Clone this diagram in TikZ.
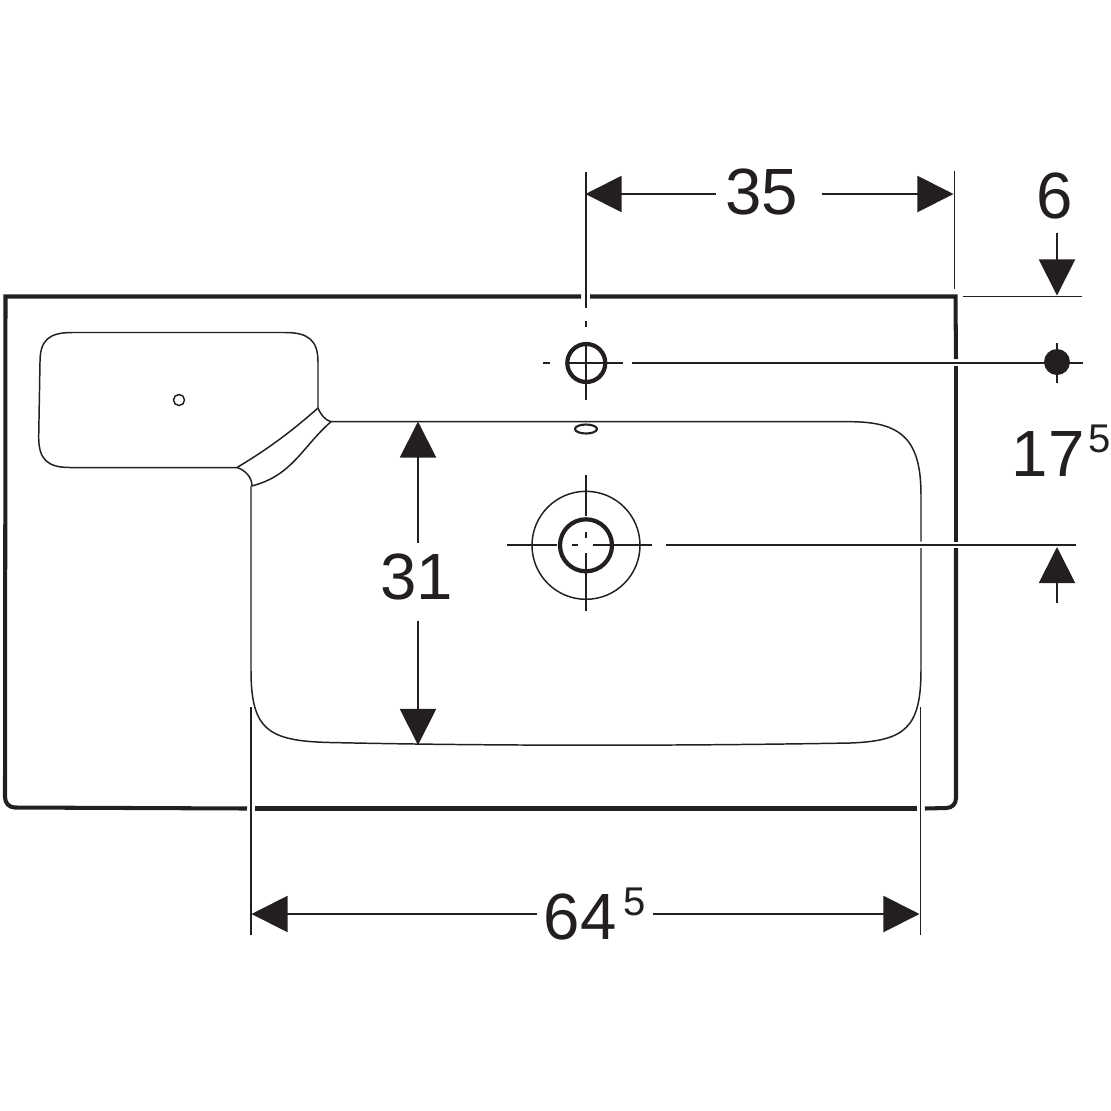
\documentclass[tikz,border=0pt]{standalone}
\usepackage{fontspec}
\setmainfont{Liberation Sans}
\usepackage{xcolor}
\usetikzlibrary{arrows.meta, calc, shapes.geometric}
\definecolor{inkblack}{HTML}{231F20}
\newcommand{\supfive}{\raisebox{6.8pt}{\fontsize{11.4}{12}\selectfont 5}}

\begin{document}
\begin{tikzpicture}[
  x=0.01cm, y=-0.01cm,
  every node/.style={font=\fontsize{18.6}{21}\selectfont, text=inkblack, inner sep=0pt},
  outline/.style={draw=inkblack, line width=1.15pt},
  thinline/.style={draw=inkblack, line width=0.42pt},
  dimline/.style={draw=inkblack, line width=0.55pt},
  dimarrow/.style={dimline, -{Triangle[length=0.36cm, width=0.36cm, fill=inkblack]}},
  ring/.style={draw=inkblack, line width=1.2pt}
]
\useasboundingbox (0,0) rectangle (1111,1111);

% Outer edge of the washbasin, broken where dimension lines cross
\draw[outline] (581,296.5) -- (5.5,296.5) -- (5,797) .. controls (5,803) and (9,807.5) .. (15,807.5) -- (247,808.5);
\draw[outline] (255,808.5) -- (917,808.5);
\draw[outline] (925,808.5) -- (946,808) .. controls (952,808) and (956,804) .. (956,798) -- (956,548);
\draw[outline] (956,541.5) -- (956,366);
\draw[outline] (956,359) -- (955.5,296.5) -- (590,296.5);

% Shelf on the left
\draw[thinline] (318,408) -- (318,362) .. controls (318,340) and (308,332.5) .. (285,332.5) -- (72,332.5)
  .. controls (48,332.5) and (40,341) .. (40,362) -- (38.7,437) .. controls (38.7,459) and (47,467.5) .. (70,467.5) -- (237,467.5);
\node[circle, thinline, minimum size=0.11cm] (drain) at (179,400) {};

% Sloped channel from shelf to basin
\draw[thinline] (318,408) .. controls (292,431) and (268,449) .. (237,467.5);
\draw[thinline] (331,421.7) .. controls (302,447) and (293,475) .. (252,486);
\draw[thinline] (318,408) .. controls (321,415) and (325,420) .. (331,421.7);
\draw[thinline] (237,467.5) .. controls (245,470) and (252,477) .. (252,486);

% Basin
\draw[thinline] (331,421.7) -- (850,421.7) .. controls (902,421.7) and (921,440) .. (921,495) -- (921,541.5);
\draw[thinline] (921,548) -- (921,670) .. controls (921,728) and (905,741) .. (850,743)
  .. controls (680,746) and (490,746) .. (330,742.5) .. controls (268,741) and (251,730) .. (251,670) -- (251,486);

% Overflow and tap hole
\node[ellipse, draw=inkblack, line width=0.6pt, minimum width=0.22cm, minimum height=0.09cm] (overflow) at (586,429) {};
\draw[ring] (586.3,363) circle (19);
\draw[dimline] (543,363) -- (550,363);
\draw[dimline] (566,363) -- (622.5,363);
\draw[dimline] (585.7,321) -- (585.7,327);
\draw[dimline] (586,343) -- (586,400);

% Waste outlet
\draw[thinline] (586,545.3) circle (54);
\draw[ring] (586,545.3) circle (26);
\draw[dimline] (586,475) -- (586,516);
\draw[dimline] (586,532) -- (586,538);
\draw[dimline] (586,553) -- (586,610.5);
\draw[dimline] (506.5,545.3) -- (556.5,545.3);
\draw[dimline] (571.5,545.3) -- (578,545.3);
\draw[dimline] (593,545.3) -- (651.5,545.3);

% Dimension 35
\coordinate (t35l) at (585.5,194);
\coordinate (t35r) at (953.5,194);
\node[inner xsep=0.09cm] (v35) at (762,192) {35};
\draw[dimline] (585.7,172) -- (585.7,308);
\draw[dimline] (954.5,171) -- (954.5,289);
\draw[dimarrow] (v35.west |- t35l) -- (t35l);
\draw[dimarrow] ($(v35.east |- t35r)+(14,0)$) -- (t35r);

% Dimension 6
\coordinate (t6) at (1057,295.5);
\coordinate (s6) at (1057,233);
\node (v6) at (1055,196) {6};
\draw[dimline] (963,296.5) -- (1082,296.5);
\draw[dimarrow] (s6) -- (t6);

% Dimension 17.5
\node[anchor=base west] (v175) at (1011,476.5) {17\hspace{1.2pt}\supfive};
\draw[dimline] (632,363) -- (1083,363);
\fill[inkblack] (1057,362) circle (13);
\draw[dimline] (1057,343) -- (1057,382.5);
\coordinate (t175) at (1057,547);
\coordinate (s175) at (1057,603);
\draw[dimline] (666,545.3) -- (1076,545.3);
\draw[dimarrow] (s175) -- (t175);

% Dimension 31
\coordinate (t31u) at (418,421.5);
\coordinate (t31d) at (418,745);
\node[inner ysep=0.1cm, inner xsep=0pt] (v31) at (416.5,577) {31};
\draw[dimarrow] (v31.north -| t31u) -- (t31u);
\draw[dimarrow] ($(v31.south -| t31d)+(0,10)$) -- (t31d);

% Dimension 64.5
\coordinate (t64l) at (251.5,914);
\coordinate (t64r) at (919.5,914);
\node[inner xsep=0.06cm] (v645) at (595,914) {64\hspace{2pt}\supfive};
\draw[dimline] (250.8,707) -- (250.8,935);
\draw[dimline] (920.5,707) -- (920.5,935);
\draw[dimarrow] (v645.west |- t64l) -- (t64l);
\draw[dimarrow] (v645.east |- t64r) -- (t64r);
\end{tikzpicture}
\end{document}
